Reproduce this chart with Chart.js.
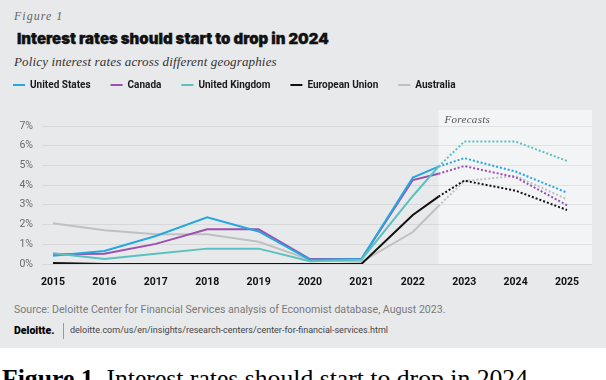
<!DOCTYPE html>
<html><head><meta charset="utf-8">
<script src="https://cdn.jsdelivr.net/npm/chart.js@4.4.1/dist/chart.umd.min.js"></script>
<style>
html,body{margin:0;padding:0;width:606px;height:380px;overflow:hidden;background:#fff}
#panel{position:absolute;left:0;top:0;width:606px;height:348px;background:#e8e9eb}
.t{position:absolute;white-space:nowrap}
#fig{left:14px;top:10px;font:italic 12px/12px "Liberation Serif",serif;letter-spacing:1px;color:#666}
#title{left:17px;top:31px;font:900 15px/15px Inter,sans-serif;color:#111;letter-spacing:0px;-webkit-text-stroke:0.35px #111}
#sub{left:14px;top:55px;font:italic 13px/13px "Liberation Serif",serif;letter-spacing:0.15px;color:#333}
#wrap{position:absolute;left:-7px;top:56px;width:613px;height:230px}
#src{left:14px;top:305px;font:10.6px/10.6px Roboto,sans-serif;color:#7a7a7a}
#logo{left:14px;top:326px;font:900 10.5px/10.5px Roboto,sans-serif;color:#000}
#divider{position:absolute;left:63px;top:323px;width:1px;height:16px;background:#999}
#url{left:70px;top:326px;font:9px/9px Roboto,sans-serif;color:#444}
#cap{left:2px;top:366px;font:25.7px/25.7px "Liberation Serif",serif;color:#000}
</style></head><body>
<div id="panel"></div>
<div class="t" id="fig">Figure 1</div>
<div class="t" id="title">Interest rates should start to drop in 2024</div>
<div class="t" id="sub">Policy interest rates across different geographies</div>
<div id="wrap"><canvas id="c"></canvas></div>
<div class="t" id="src">Source: Deloitte Center for Financial Services analysis of Economist database, August 2023.</div>
<div class="t" id="logo">Deloitte.</div>
<div id="divider"></div>
<div class="t" id="url">deloitte.com/us/en/insights/research-centers/center-for-financial-services.html</div>
<div class="t" id="cap"><b>Figure 1.</b> Interest rates should start to drop in 2024</div>
<script>
// ---- data ----
const periods = [2015, 2016, 2017, 2018, 2019, 2020, 2021, 2022, 2022.5, 2023, 2024, 2025];
const forecastStart = 2022.5;
const yearTicks = [2015, 2016, 2017, 2018, 2019, 2020, 2021, 2022, 2023, 2024, 2025];
const rateTicks = [0, 1, 2, 3, 4, 5, 6, 7];
const seriesNames = ['United States', 'Canada', 'United Kingdom', 'European Union', 'Australia'];
const unitedStates  = [0.42, 0.66, 1.42, 2.37, 1.65, 0.22, 0.25, 4.38, 4.94, 5.37, 4.69, 3.62];
const canada        = [0.50, 0.52, 1.02, 1.76, 1.76, 0.25, 0.25, 4.26, 4.58, 4.97, 4.40, 2.98];
const unitedKingdom = [0.54, 0.25, 0.52, 0.78, 0.78, 0.14, 0.22, 3.45, 4.94, 6.21, 6.21, 5.23];
const europeanUnion = [0.05, 0.00, 0.00, 0.00, 0.00, 0.00, 0.00, 2.49, 3.42, 4.23, 3.72, 2.74];
const australia     = [2.07, 1.71, 1.51, 1.51, 1.13, 0.22, 0.10, 1.62, 2.94, 4.21, 4.47, 3.28];

// ---- styles ----
const seriesValues = [unitedStates, canada, unitedKingdom, europeanUnion, australia];
const seriesColors = ['#25a7e0', '#9d4fb0', '#5cc0c0', '#111111', '#bfc0c2'];
const drawOrder = [2, 3, 1, 0, 4];

const datasets = seriesNames.map((name, i) => ({
  label: name,
  data: periods.map((p, j) => ({x: p, y: seriesValues[i][j]})),
  borderColor: seriesColors[i],
  backgroundColor: seriesColors[i],
  borderWidth: 2,
  pointRadius: 0,
  tension: 0,
  fill: false,
  order: drawOrder[i],
  segment: {
    borderDash: ctx => ctx.p0.parsed.x >= forecastStart ? [2, 2] : undefined
  }
}));

const forecastBox = {
  id: 'forecastBox',
  beforeDraw(chart) {
    const {ctx, chartArea, scales: {x, y}} = chart;
    const left = x.getPixelForValue(forecastStart);
    const top = y.getPixelForValue(7.81);
    const bottom = y.getPixelForValue(0);
    ctx.save();
    ctx.fillStyle = '#f3f4f6';
    ctx.fillRect(left, top, chartArea.right - left, bottom - top);
    ctx.fillStyle = '#555';
    ctx.font = 'italic 11px "Liberation Serif", serif';
    try { ctx.letterSpacing = '0.3px'; } catch (e) {}
    ctx.textBaseline = 'alphabetic';
    ctx.fillText('Forecasts', left + 6, top + 12.5);
    ctx.restore();
  }
};

new Chart(document.getElementById('c'), {
  type: 'line',
  data: {datasets},
  plugins: [forecastBox],
  options: {
    responsive: true,
    maintainAspectRatio: false,
    animation: false,
    layout: {padding: {top: 4, right: 14, bottom: 0, left: 0}},
    plugins: {
      tooltip: {enabled: false},
      legend: {
        display: true,
        position: 'top',
        align: 'start',
        labels: {
          boxWidth: 12,
          boxHeight: 2,
          padding: 20,
          color: '#1a1a1a',
          font: {family: 'Roboto', size: 10, weight: 'bold'},
          generateLabels: chart => chart.data.datasets.map((ds, i) => ({
            text: ds.label,
            fillStyle: ds.borderColor,
            strokeStyle: ds.borderColor,
            lineWidth: 0,
            hidden: false,
            datasetIndex: i,
            fontColor: '#1a1a1a'
          }))
        }
      }
    },
    scales: {
      x: {
        type: 'linear',
        min: 2014.786,
        max: 2025.486,
        afterBuildTicks: s => { s.ticks = yearTicks.map(v => ({value: v})); },
        afterFit: s => { s.height = 22; },
        grid: {display: false},
        border: {display: false},
        ticks: {
          padding: 4,
          autoSkip: false,
          maxRotation: 0,
          color: '#111',
          font: {family: 'Roboto', size: 10.5, weight: 'bold'},
          callback: v => String(v)
        }
      },
      y: {
        min: 0,
        max: 8.32,
        afterBuildTicks: s => { s.ticks = rateTicks.map(v => ({value: v})); },
        afterFit: s => { s.width = 49; },
        grid: {color: 'rgba(0,0,0,0.07)', drawTicks: false, lineWidth: 1},
        border: {display: false},
        ticks: {
          padding: 9,
          color: '#6b6b6b',
          font: {family: 'Roboto', size: 10.5},
          callback: v => v + '%'
        }
      }
    }
  }
});
</script>
</body></html>
